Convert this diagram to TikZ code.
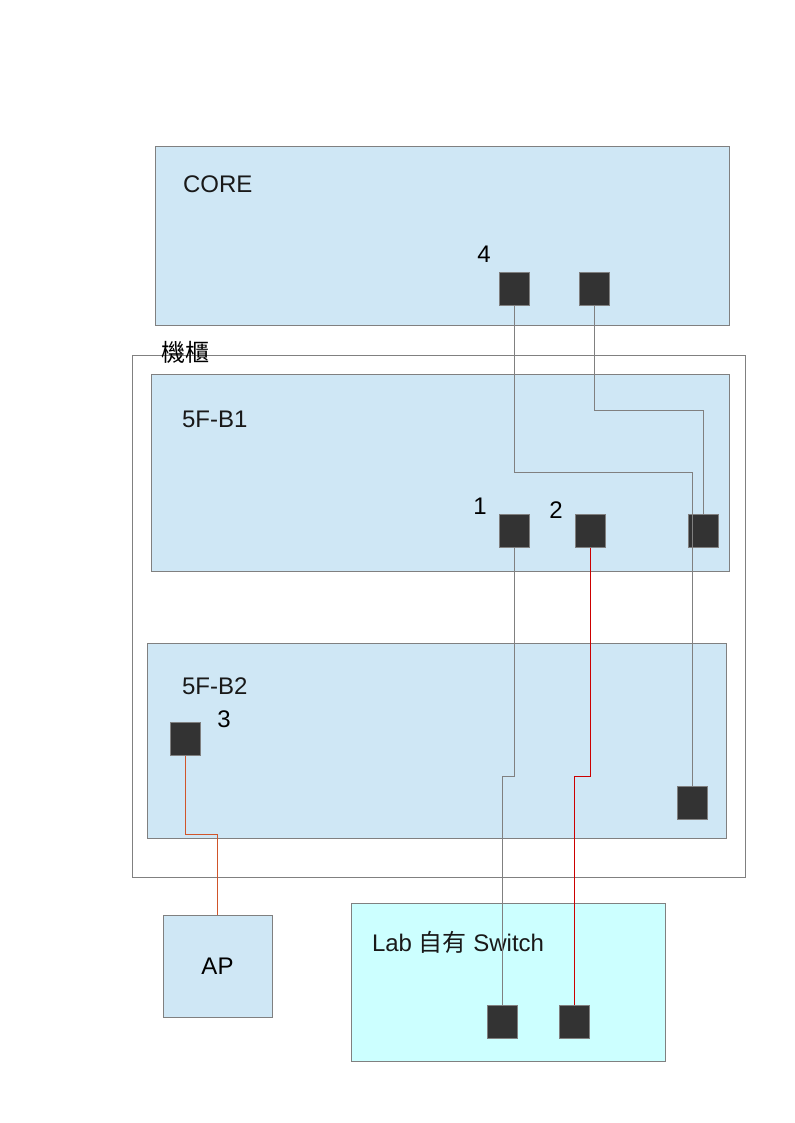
\documentclass[tikz,border=0pt]{standalone}
\usepackage{fontspec}
\setmainfont{Liberation Sans}
\newfontfamily\cjk{Noto Sans CJK TC}
\definecolor{boxblue}{HTML}{CFE7F5}
\definecolor{labcyan}{HTML}{CCFFFF}
\definecolor{edgegray}{HTML}{808080}
\definecolor{portdark}{HTML}{333333}
\definecolor{wirered}{HTML}{CC0000}
\definecolor{wireorange}{HTML}{D0552A}
\begin{document}
\begin{tikzpicture}[x=0.75pt,y=-0.75pt,
  every node/.style={inner sep=0pt,outer sep=0pt,font=\fontsize{18}{21.6}\selectfont},
  devbox/.style={draw=edgegray,fill=boxblue,line width=0.75pt},
  rack/.style={draw=edgegray,fill=white,line width=0.75pt},
  port/.style={draw=edgegray,fill=portdark,line width=0.75pt,minimum width=30\pgflinewidth,minimum width=22.5pt,minimum height=25pt,rectangle},
  wire/.style={draw=edgegray,line width=0.75pt},
  redwire/.style={draw=wirered,line width=0.75pt},
  orwire/.style={draw=wireorange,line width=0.75pt},
  lbl/.style={anchor=base west,text=black!90}
]
\useasboundingbox (0,0) rectangle (794,1123);
% boxes
\draw[devbox] (155,147) rectangle (729,325);
\node[lbl] (tcore) at (183,193) {CORE};
\draw[rack] (132,355) rectangle (745,877);
\node (track) at (185,352) {\cjk 機櫃};
\draw[devbox] (151,374) rectangle (729,571);
\node[lbl] (tb1) at (182,427) {5F-B1};
\draw[devbox] (147,643) rectangle (726,838);
\node[lbl] (tb2) at (182,694) {5F-B2};
\node[devbox,minimum width=81.75pt,minimum height=76.5pt] (ap) at (217.5,966) {AP};
\draw[draw=edgegray,fill=labcyan,line width=0.75pt] (351,903) rectangle (665,1061);
\node[lbl] (tlab) at (372,951) {Lab {\cjk 自有} Switch};
% ports
\node[port] (c4) at (514,289) {};
\node[port] (c5) at (594,289) {};
\node[port] (p1) at (514,531) {};
\node[port] (p2) at (590,531) {};
\node[port] (p3) at (703,531) {};
\node[port] (q3) at (185,739) {};
\node[port] (q4) at (692,803) {};
\node[port] (l1) at (502.5,1022) {};
\node[port] (l2) at (574.5,1022) {};
% port numbers
\node (n4) at (484,254) {4};
\node (n1) at (480,506) {1};
\node (n2) at (556,510) {2};
\node (n3) at (224,719) {3};
% bend points
\coordinate (k1) at (692,472);
\coordinate (k2) at (703,410);
\coordinate (k3) at (502.5,776);
\coordinate (k4) at (574.5,776);
\coordinate (k5) at (217.5,834);
% wires
\draw[wire] (c4.south) |- (k1) -- (q4.north);
\draw[wire] (c5.south) |- (k2) -- (p3.north);
\draw[wire] (p1.south) |- (k3) -- (l1.north);
\draw[redwire] (p2.south) |- (k4) -- (l2.north);
\draw[orwire] (q3.south) |- (k5) -- (ap.north);
\end{tikzpicture}
\end{document}
